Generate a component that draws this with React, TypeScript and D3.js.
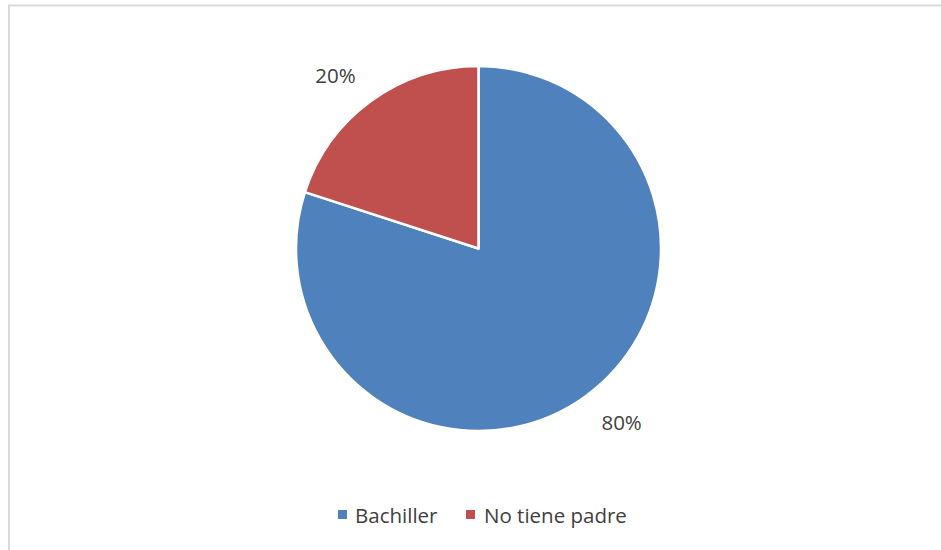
import React from "react";
import * as d3 from "d3";

const categories = ["Bachiller", "No tiene padre"];
const values = [80, 20];
const labels = ["80%", "20%"];
const colors = ["#4F81BD", "#C0504D"];

const W = 941;
const H = 550;
const cx = 478.5;
const cy = 248.5;
const R = 182.5;
const LABEL_R = 225;
const LABEL_SHIFT = (-3.5 * Math.PI) / 180;
const FONT = "'Open Sans', 'Noto Sans', sans-serif";

export default function App() {
  const pie = d3.pie<number>().sort(null).value((d) => d)(values);
  const arc = d3.arc<d3.PieArcDatum<number>>().innerRadius(0).outerRadius(R);

  const legendItems = [
    { x: 338, tx: 355 },
    { x: 466, tx: 484 },
  ];

  return (
    <svg
      width={W}
      height={H}
      style={{ position: "absolute", left: 0, top: 0, background: "#fff" }}
    >
      <rect x={9} y={5.5} width={1000} height={1000} fill="#fff" stroke="#D9D9D9" strokeWidth={2} />
      <g transform={`translate(${cx},${cy})`}>
        {pie.map((p, i) => (
          <path key={i} d={arc(p) || ""} fill={colors[i]} stroke="#fff" strokeWidth={2.5} strokeLinejoin="round" />
        ))}
        {pie.map((p, i) => {
          const a = (p.startAngle + p.endAngle) / 2 + LABEL_SHIFT;
          const x = LABEL_R * Math.sin(a);
          const y = -LABEL_R * Math.cos(a);
          return (
            <text
              key={"l" + i}
              x={x}
              y={y}
              textAnchor="middle"
              dominantBaseline="central"
              fontFamily={FONT}
              fontSize={20.5}
              fill="#404040"
            >
              {labels[i]}
            </text>
          );
        })}
      </g>
      <g>
        {categories.map((c, i) => (
          <g key={c}>
            <rect x={legendItems[i].x} y={510} width={9} height={9} fill={colors[i]} />
            <text
              x={legendItems[i].tx}
              y={515}
              dominantBaseline="central"
              fontFamily={FONT}
              fontSize={20.5}
              fill="#404040"
            >
              {c}
            </text>
          </g>
        ))}
      </g>
    </svg>
  );
}
